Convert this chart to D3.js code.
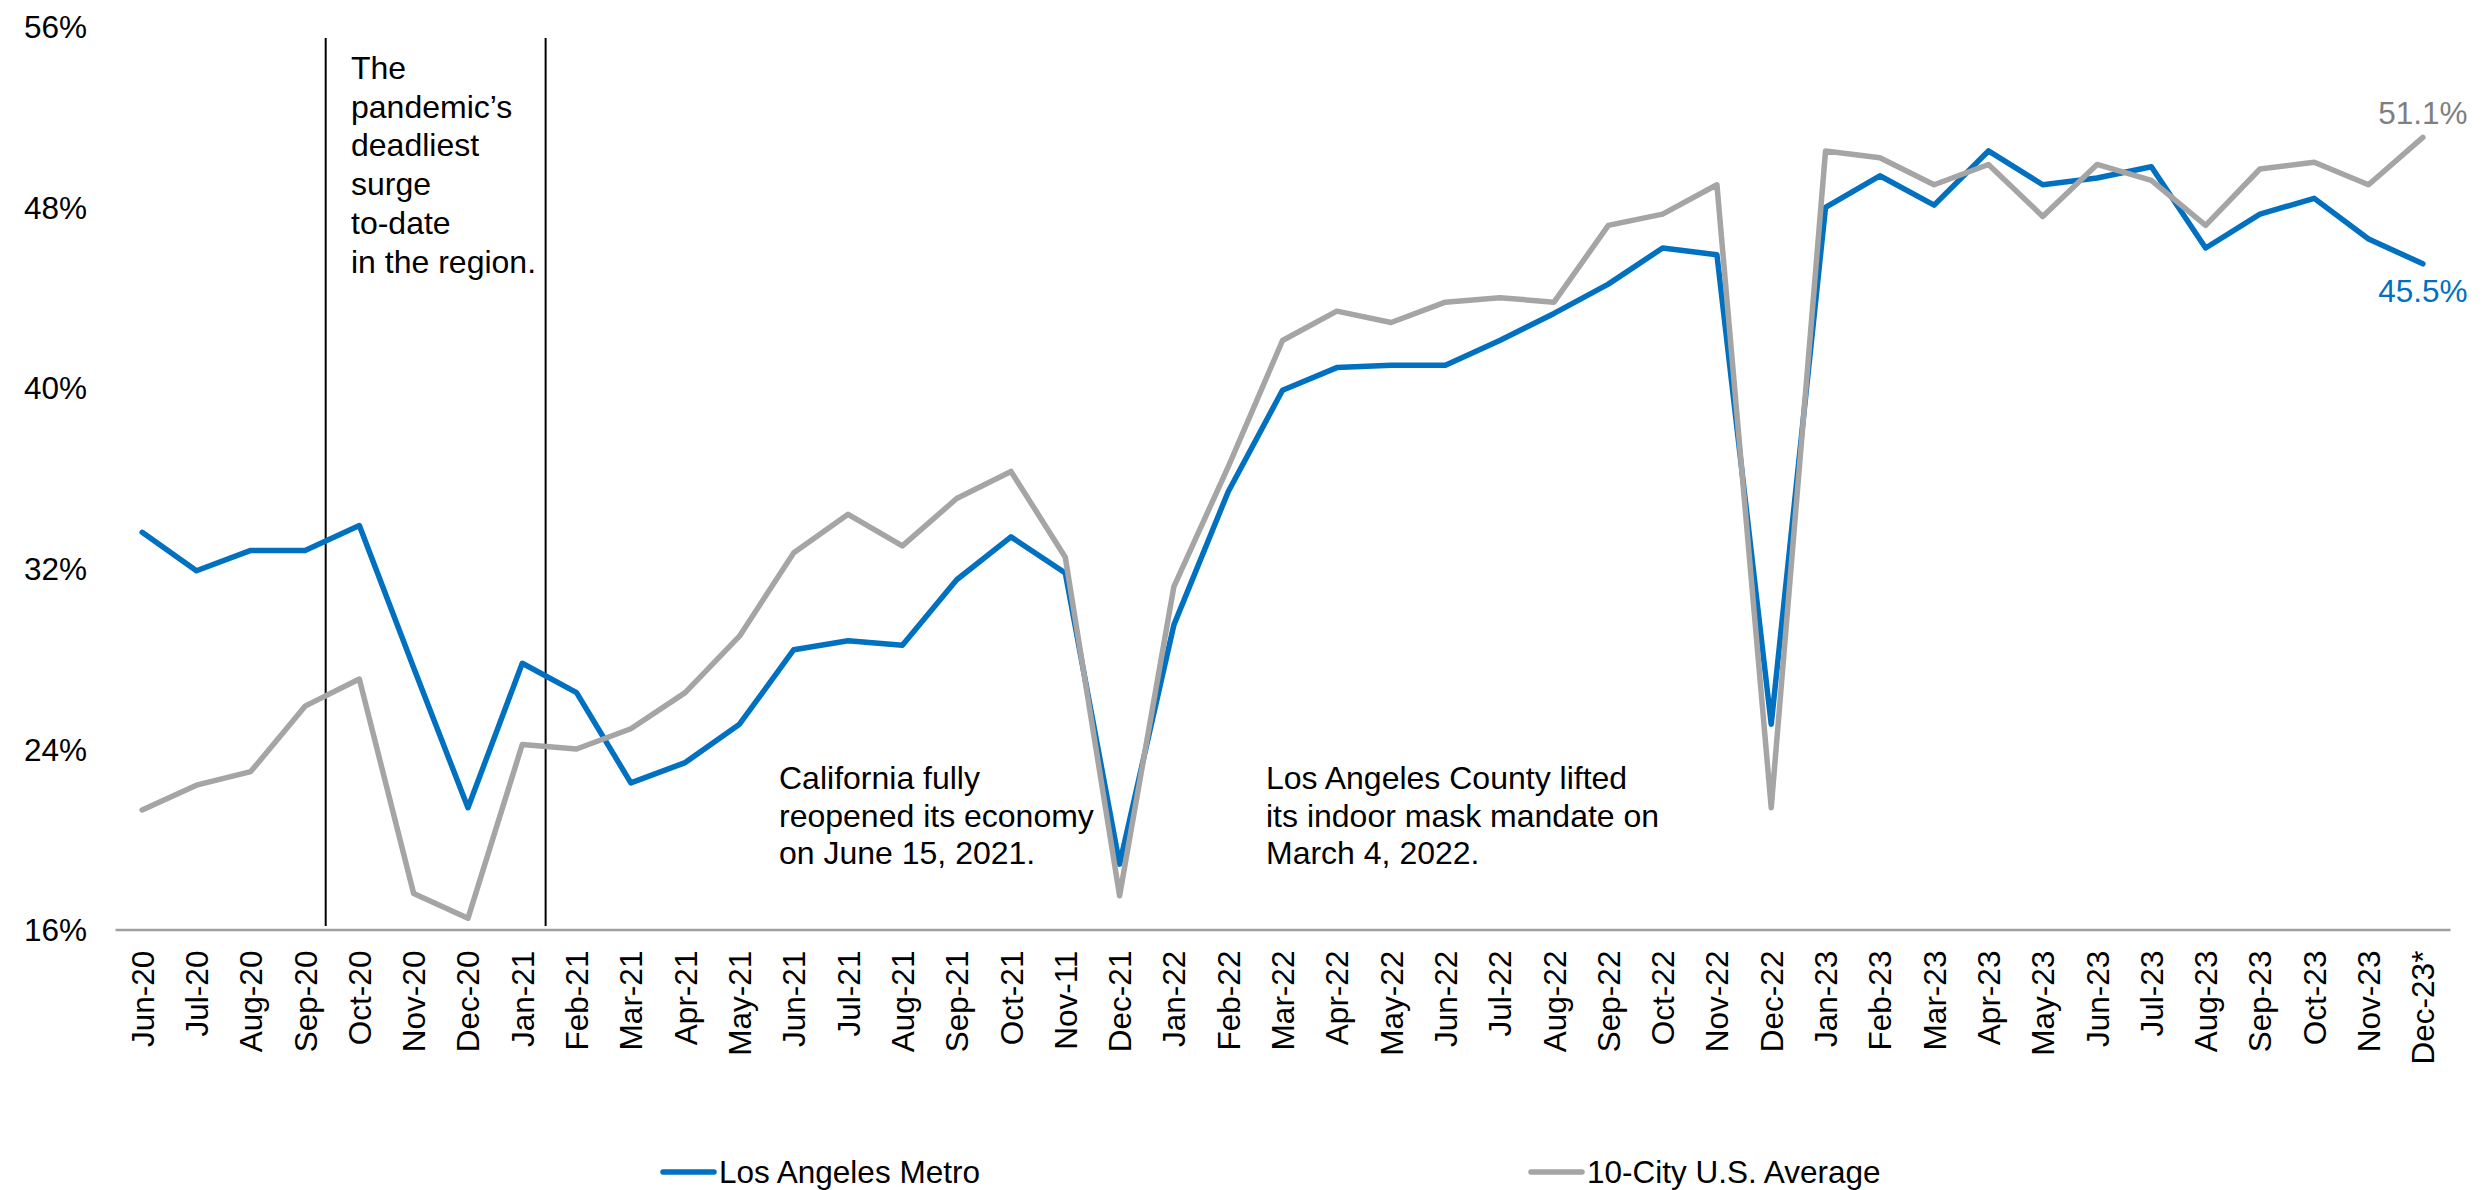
<!DOCTYPE html>
<meta charset="utf-8">
<style>

body {
  margin: 0;
  background: #fff;
}

svg text {
  font-family: "Liberation Sans", Arial, Helvetica, sans-serif;
  fill: #000;
}

.tick-label {
  font-size: 31.5px;
}

.note {
  font-size: 32px;
}

</style>
<svg id="chart"></svg>
<script src="https://d3js.org/d3.v7.min.js"></script>
<script>

// DATA

let months = ["Jun-20", "Jul-20", "Aug-20", "Sep-20", "Oct-20", "Nov-20", "Dec-20",
  "Jan-21", "Feb-21", "Mar-21", "Apr-21", "May-21", "Jun-21", "Jul-21", "Aug-21", "Sep-21", "Oct-21", "Nov-11", "Dec-21",
  "Jan-22", "Feb-22", "Mar-22", "Apr-22", "May-22", "Jun-22", "Jul-22", "Aug-22", "Sep-22", "Oct-22", "Nov-22", "Dec-22",
  "Jan-23", "Feb-23", "Mar-23", "Apr-23", "May-23", "Jun-23", "Jul-23", "Aug-23", "Sep-23", "Oct-23", "Nov-23", "Dec-23*"];

let laMetro = [33.6, 31.9, 32.8, 32.8, 33.9, 27.6, 21.4,
  27.8, 26.5, 22.5, 23.4, 25.1, 28.4, 28.8, 28.6, 31.5, 33.4, 31.8, 18.9,
  29.5, 35.4, 39.9, 40.9, 41.0, 41.0, 42.1, 43.3, 44.6, 46.2, 45.9, 25.1,
  48.0, 49.4, 48.1, 50.5, 49.0, 49.3, 49.8, 46.2, 47.7, 48.4, 46.6, 45.5];

let tenCity = [21.3, 22.4, 23.0, 25.9, 27.1, 17.6, 16.5,
  24.2, 24.0, 24.9, 26.5, 29.0, 32.7, 34.4, 33.0, 35.1, 36.3, 32.5, 17.5,
  31.2, 36.5, 42.1, 43.4, 42.9, 43.8, 44.0, 43.8, 47.2, 47.7, 49.0, 21.4,
  50.5, 50.2, 49.0, 49.9, 47.6, 49.9, 49.2, 47.2, 49.7, 50.0, 49.0, 51.1];

let yTicks = [16, 24, 32, 40, 48, 56];

// surge window, in month-index units
let surgeBounds = [3.38, 7.43];

let surgeNote = ["The", "pandemic\u2019s", "deadliest", "surge", "to-date", "in the region."];
let reopenNote = ["California fully", "reopened its economy", "on June 15, 2021."];
let maskNote = ["Los Angeles County lifted", "its indoor mask mandate on", "March 4, 2022."];

let seriesNames = ["Los Angeles Metro", "10-City U.S. Average"];

// SETUP

let blue = "#0070c0",
    grey = "#a5a5a5";

let svg = d3.select("#chart")
  .attr("width", 2488)
  .attr("height", 1190);

let x = d3.scalePoint()
  .domain(months)
  .range([115, 2450])
  .padding(0.5);

let idx = d3.scaleLinear()
  .domain([0, months.length - 1])
  .range([x(months[0]), x(months[months.length - 1])]);

let y = d3.scaleLinear()
  .domain([16, 56])
  .range([929.6, 26.8]);

// Y AXIS (labels only)

svg.append("g")
  .attr("transform", "translate(87,0)")
  .call(d3.axisLeft(y).tickValues(yTicks).tickSize(0).tickPadding(0).tickFormat(d => d + "%"))
  .call(g => g.select(".domain").remove())
  .selectAll("text")
  .attr("class", "tick-label")
  .attr("font-family", null)
  .attr("font-size", null)
  .attr("dy", "0.35em");

// X AXIS

let xAxis = svg.append("g")
  .attr("transform", "translate(0,929.6)")
  .call(d3.axisBottom(x).tickSize(0).tickPadding(0));

xAxis.select(".domain")
  .attr("stroke", "#a0a0a0")
  .attr("stroke-width", 2.5);

xAxis.selectAll("text")
  .attr("class", "tick-label")
  .attr("font-family", null)
  .attr("font-size", null)
  .attr("text-anchor", "end")
  .attr("transform", "rotate(-90)")
  .attr("x", -21)
  .attr("y", 0)
  .attr("dy", "0.35em");

// SURGE LINES

svg.selectAll(".surge")
  .data(surgeBounds)
  .enter()
  .append("line")
  .attr("class", "surge")
  .attr("x1", d => idx(d))
  .attr("x2", d => idx(d))
  .attr("y1", 38)
  .attr("y2", 926)
  .attr("stroke", "#000")
  .attr("stroke-width", 2);

// NOTES

function note(lines, x0, y0, lh) {
  svg.append("text")
    .attr("class", "note")
    .selectAll("tspan")
    .data(lines)
    .enter()
    .append("tspan")
    .attr("x", x0)
    .attr("y", (d, i) => y0 + i * lh)
    .text(d => d);
}

note(surgeNote, 351, 79, 38.7);
note(reopenNote, 779, 789, 37.5);
note(maskNote, 1266, 789, 37.5);

// LINES

let line = d3.line()
  .x((d, i) => x(months[i]))
  .y(d => y(d));

svg.append("path")
  .datum(laMetro)
  .attr("fill", "none")
  .attr("stroke", blue)
  .attr("stroke-width", 5.5)
  .attr("stroke-linejoin", "round")
  .attr("stroke-linecap", "round")
  .attr("d", line);

svg.append("path")
  .datum(tenCity)
  .attr("fill", "none")
  .attr("stroke", grey)
  .attr("stroke-width", 5.5)
  .attr("stroke-linejoin", "round")
  .attr("stroke-linecap", "round")
  .attr("d", line);

// END LABELS

let last = months.length - 1;

svg.append("text")
  .attr("class", "tick-label")
  .attr("x", x(months[last]))
  .attr("y", y(tenCity[last]) - 13)
  .attr("text-anchor", "middle")
  .style("fill", "#7f7f7f")
  .text(tenCity[last].toFixed(1) + "%");

svg.append("text")
  .attr("class", "tick-label")
  .attr("x", x(months[last]))
  .attr("y", y(laMetro[last]) + 38)
  .attr("text-anchor", "middle")
  .style("fill", blue)
  .text(laMetro[last].toFixed(1) + "%");

// LEGEND

let legend = svg.selectAll(".legend")
  .data(seriesNames)
  .enter()
  .append("g")
  .attr("class", "legend")
  .attr("transform", (d, i) => "translate(" + (663 + i * 868) + ",1172)");

legend.append("line")
  .attr("x1", 0)
  .attr("x2", 51)
  .attr("stroke", (d, i) => i === 0 ? blue : grey)
  .attr("stroke-width", 5.5)
  .attr("stroke-linecap", "round");

legend.append("text")
  .attr("class", "tick-label")
  .attr("x", 56)
  .attr("dy", "0.35em")
  .text(d => d);

</script>
